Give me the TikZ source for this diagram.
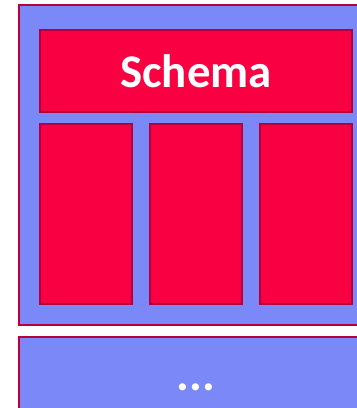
\documentclass[tikz,border=0pt]{standalone}
\usepackage{fontspec}
\setmainfont{Carlito}
\usetikzlibrary{positioning}
\definecolor{LayerBlue}{HTML}{7A88F8}
\definecolor{BlockRed}{HTML}{F80042}
\definecolor{EdgeRed}{HTML}{B4003C}

\begin{document}
\begin{tikzpicture}[x=1bp,y=-1bp,
    every node/.style={font=\bfseries, text=white, inner sep=0pt},
    layer/.style={draw=EdgeRed, fill=LayerBlue, line width=2bp, rectangle},
    block/.style={draw=EdgeRed, fill=BlockRed, line width=2bp, rectangle}]
      \useasboundingbox (0,0) rectangle (357,408);
      \clip (0,0) rectangle (357,408);

      \node[layer, minimum width=354bp, minimum height=320bp] (outer) at (196,165) {};
      \node[layer, minimum width=354bp, minimum height=100bp] (lower) at (196,387) {};

      \node[block, minimum width=312bp, minimum height=82bp, font=\fontsize{47}{50}\bfseries] (schema) at (196,71) {Schema};
      \node[block, minimum width=92bp, minimum height=180bp] (colb) at (196,214) {};
      \node[block, minimum width=92bp, minimum height=180bp, left=16bp of colb] (cola) {};
      \node[block, minimum width=92bp, minimum height=180bp, right=16bp of colb] (colc) {};

      \node[anchor=base, font=\fontsize{48}{50}\bfseries] (dots) at (196,390) {...};
    \end{tikzpicture}
\end{document}
